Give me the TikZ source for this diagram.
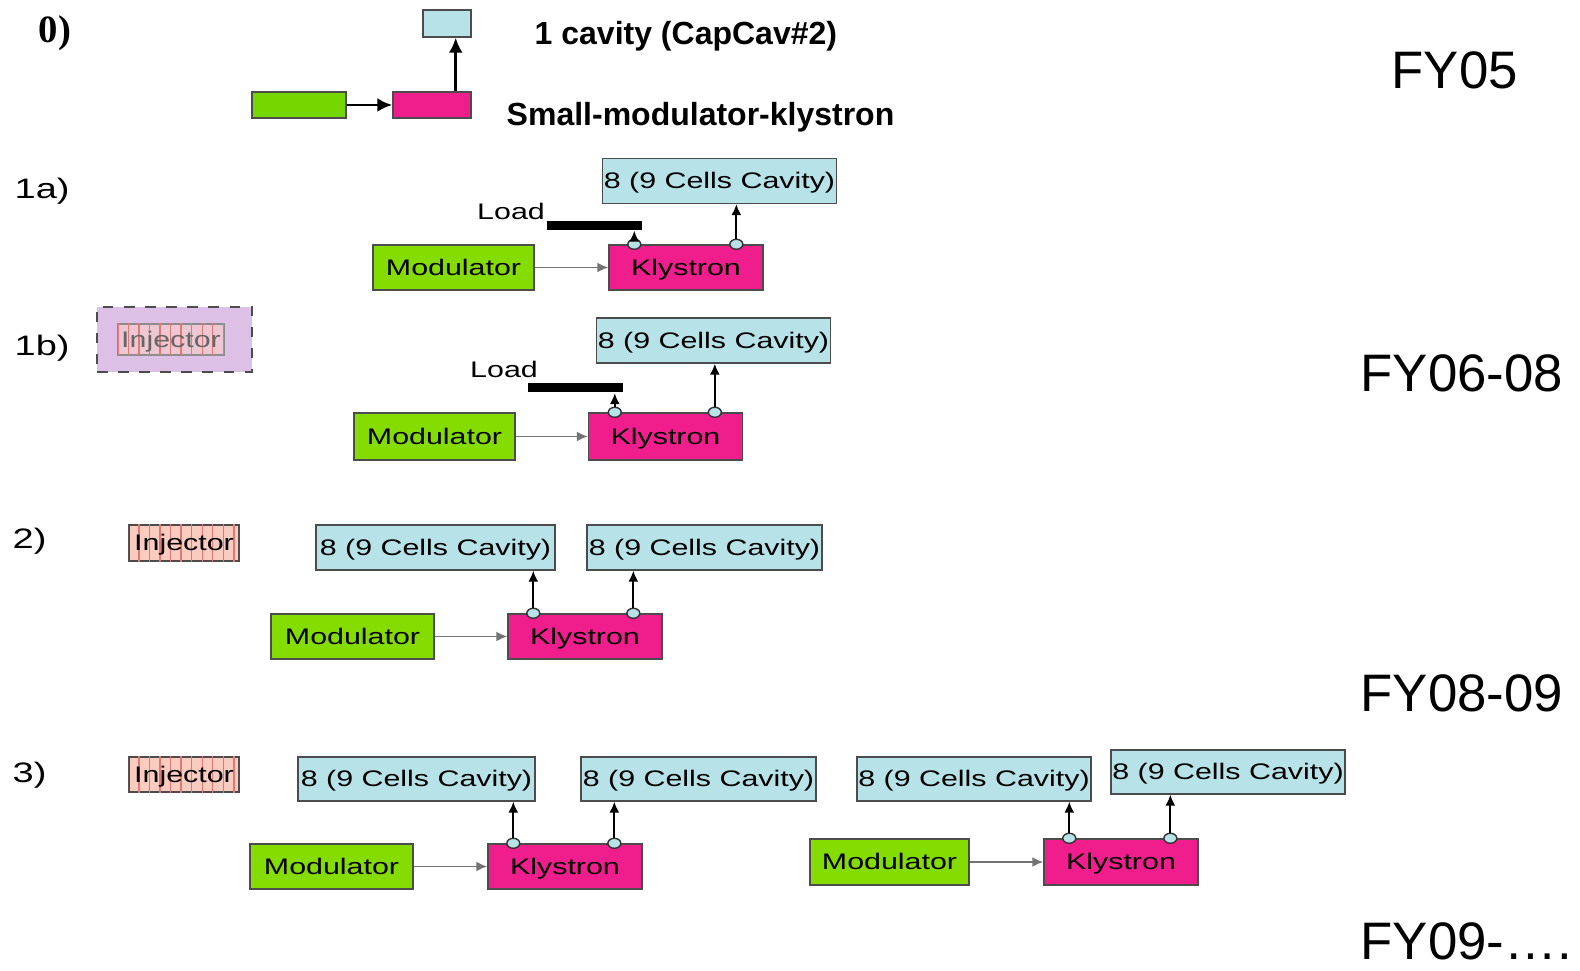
\documentclass[tikz,border=0pt]{standalone}
\usepackage{fontspec}
\setmainfont{Liberation Sans}
\newfontfamily\diafont[FakeStretch=1.35]{Liberation Sans}
\newfontfamily\numfont{Liberation Serif}
\usetikzlibrary{arrows.meta,positioning,shapes.geometric,patterns}
\definecolor{cavblue}{RGB}{182,226,232}
\definecolor{modgreen}{RGB}{132,220,0}
\definecolor{modgreenzero}{RGB}{118,214,0}
\definecolor{klypink}{RGB}{240,30,140}
\definecolor{injpink}{RGB}{250,204,192}
\definecolor{injline}{RGB}{225,120,120}
\definecolor{injpurple}{RGB}{220,192,230}

\begin{document}
\begin{tikzpicture}[x=0.01cm, y=-0.01cm,
    box/.style={draw=black!70, inner sep=0pt, text centered, text depth=0.1mm,
                font=\diafont\fontsize{6.4}{7}\selectfont},
    cav/.style={box, fill=cavblue, minimum width=23.4mm, minimum height=4.5mm},
    mod/.style={box, fill=modgreen, minimum width=16.1mm, minimum height=4.5mm},
    kly/.style={box, fill=klypink, minimum width=15.4mm, minimum height=4.5mm},
    inj/.style={box, fill=injpink, postaction={pattern=vertical lines, pattern color=injline},
                minimum width=11mm, minimum height=3.6mm},
    port/.style={ellipse, draw=black!80, fill=cavblue, minimum width=1.3mm,
                 minimum height=1mm, inner sep=0pt},
    loadbar/.style={fill=black, minimum width=9.5mm, minimum height=0.9mm, inner sep=0pt},
    lbl/.style={inner sep=0pt, font=\diafont\fontsize{6.4}{7}\selectfont},
    rowlbl/.style={anchor=west, inner sep=0pt, font=\diafont\fontsize{8}{9}\selectfont},
    head/.style={anchor=west, inner sep=0pt, font=\bfseries\fontsize{9.1}{11}\selectfont},
    fy/.style={anchor=west, inner sep=0pt, font=\fontsize{15}{17}\selectfont},
    arr/.style={-{Latex[length=1.1mm,width=1mm]}, line width=0.5pt},
    feed/.style={arr, draw=black!55},
    arrzero/.style={-{Latex[length=1.5mm,width=1.4mm]}, line width=0.8pt}
  ]
  \fill[white] (0,0) rectangle (1580,971);

  % 0) small modulator - klystron
  \node[anchor=west, inner sep=0pt, font=\numfont\bfseries\fontsize{11}{13}\selectfont] (lbl0) at (38,33) {0)};
  \node[box, fill=cavblue, minimum width=4.8mm, minimum height=2.7mm] (cav0) at (447,23.5) {};
  \node[box, fill=modgreenzero, minimum width=9.4mm, minimum height=2.6mm] (mod0) at (299,105) {};
  \node[box, fill=klypink, minimum width=7.8mm, minimum height=2.6mm] (kly0) at (432,105) {};
  \node[head] (txt0a) at (534,36) {1 cavity (CapCav\#2)};
  \node[head] (txt0b) at (506,117) {Small-modulator-klystron};
  \coordinate (up0) at ([xshift=-1.6mm]kly0.north east);
  \draw[arrzero] (mod0) -- (kly0);
  \draw[arrzero] (up0) -- (up0 |- cav0.south);
  \node[fy] (fy05) at (1391,70) {FY05};

  % 1a)
  \node[rowlbl] (lbl1a) at (14,191) {1a)};
  \node[cav] (cav1a) at (719.5,181) {8 (9 Cells Cavity)};
  \node[lbl] (loadtxt1a) at (511,211) {Load};
  \node[loadbar] (loadbar1a) at (594.5,225.5) {};
  \node[mod] (mod1a) at (453.5,267.5) {Modulator};
  \node[kly] (kly1a) at (686,267.5) {Klystron};
  \node[port] (p1a1) at ([xshift=2.6mm]kly1a.north west) {};
  \node[port] (p1a2) at ([xshift=12.8mm]kly1a.north west) {};
  \draw[feed] (mod1a) -- (kly1a);
  \draw[arr] (p1a1) -- (p1a1 |- loadbar1a.south);
  \draw[arr] (p1a2) -- (p1a2 |- cav1a.south);

  % 1b)
  \node[rowlbl] (lbl1b) at (14,348) {1b)};
  \node[draw=black!70, dashed, fill=injpurple, minimum width=15.5mm, minimum height=6.5mm,
        inner sep=0pt] (injbg1b) at (174.5,339.5) {};
  \node[inj, draw=black!45, fill=injpink!55!injpurple, text=black!60,
        minimum width=10.6mm, minimum height=3.1mm] (inj1b) at (171,339.5) {Injector};
  \node[cav] (cav1b) at (713.5,340.5) {8 (9 Cells Cavity)};
  \node[lbl] (loadtxt1b) at (504,369) {Load};
  \node[loadbar] (loadbar1b) at (575.5,388) {};
  \node[mod, minimum height=4.7mm] (mod1b) at (434.5,436.5) {Modulator};
  \node[kly, minimum height=4.7mm] (kly1b) at (665.5,436.5) {Klystron};
  \node[port] (p1b1) at ([xshift=2.7mm]kly1b.north west) {};
  \node[port] (p1b2) at ([xshift=12.7mm]kly1b.north west) {};
  \draw[feed] (mod1b) -- (kly1b);
  \draw[arr] (p1b1) -- (p1b1 |- loadbar1b.south);
  \draw[arr] (p1b2) -- (p1b2 |- cav1b.south);
  \node[fy] (fy0608) at (1360,373) {FY06-08};

  % 2)
  \node[rowlbl] (lbl2) at (12,541) {2)};
  \node[inj] (inj2) at (184,543) {Injector};
  \node[cav, minimum width=23.9mm] (cav2a) at (435.5,547.5) {8 (9 Cells Cavity)};
  \node[cav, minimum width=23.5mm] (cav2b) at (704.5,547.5) {8 (9 Cells Cavity)};
  \node[mod, minimum width=16.3mm] (mod2) at (352.5,636.5) {Modulator};
  \node[kly] (kly2) at (585,636.5) {Klystron};
  \node[port] (p21) at ([xshift=2.6mm]kly2.north west) {};
  \node[port] (p22) at ([xshift=12.6mm]kly2.north west) {};
  \draw[feed] (mod2) -- (kly2);
  \draw[arr] (p21) -- (p21 |- cav2a.south);
  \draw[arr] (p22) -- (p22 |- cav2b.south);
  \node[fy] (fy0809) at (1360,693) {FY08-09};

  % 3)
  \node[rowlbl] (lbl3) at (12,775) {3)};
  \node[inj, minimum height=3.5mm] (inj3) at (184,774.5) {Injector};
  \node[cav, minimum width=23.7mm, minimum height=4.4mm] (cav3a) at (416.5,779) {8 (9 Cells Cavity)};
  \node[cav, minimum width=23.5mm, minimum height=4.4mm] (cav3b) at (698.5,779) {8 (9 Cells Cavity)};
  \node[cav, minimum height=4.4mm] (cav3c) at (974,779) {8 (9 Cells Cavity)};
  \node[cav, minimum height=4.4mm] (cav3d) at (1228,772) {8 (9 Cells Cavity)};
  \node[mod, minimum width=16.3mm] (mod3a) at (331.5,866.5) {Modulator};
  \node[kly] (kly3a) at (565,866.5) {Klystron};
  \node[mod, minimum width=15.9mm, minimum height=4.6mm] (mod3b) at (889.5,862) {Modulator};
  \node[kly, minimum height=4.6mm] (kly3b) at (1121,862) {Klystron};
  \node[port] (p3a1) at ([xshift=2.6mm]kly3a.north west) {};
  \node[port] (p3a2) at ([xshift=12.7mm]kly3a.north west) {};
  \node[port] (p3b1) at ([xshift=2.6mm]kly3b.north west) {};
  \node[port] (p3b2) at ([xshift=12.7mm]kly3b.north west) {};
  \draw[feed] (mod3a) -- (kly3a);
  \draw[feed] (mod3b) -- (kly3b);
  \draw[arr] (p3a1) -- (p3a1 |- cav3a.south);
  \draw[arr] (p3a2) -- (p3a2 |- cav3b.south);
  \draw[arr] (p3b1) -- (p3b1 |- cav3c.south);
  \draw[arr] (p3b2) -- (p3b2 |- cav3d.south);
  \node[fy] (fy09) at (1360,941) {FY09-….};
\end{tikzpicture}
\end{document}
